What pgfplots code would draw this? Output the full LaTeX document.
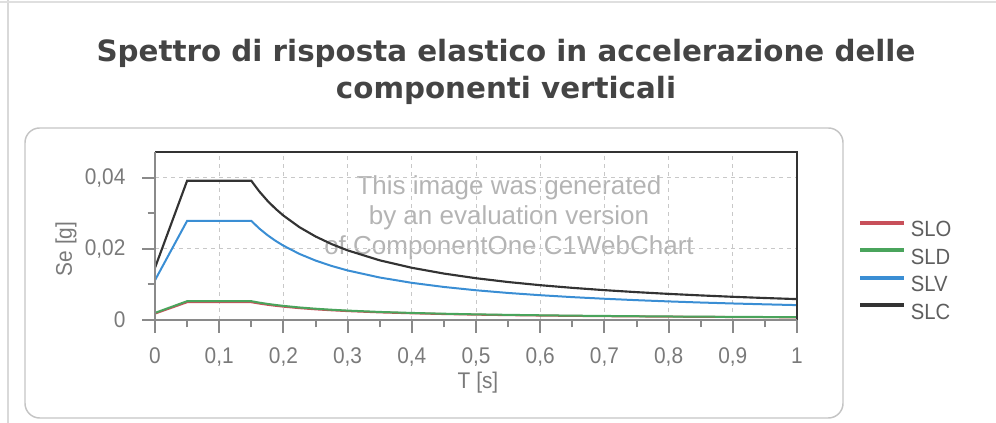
\documentclass[border=0pt]{standalone}
\usepackage{pgfplots}
\pgfplotsset{compat=1.18}
\usepackage{fontspec}
\setmainfont{Liberation Sans}
\newfontfamily\titlefont{DejaVu Sans}
\newfontfamily\lfont{Liberation Sans}[FakeStretch=0.92]
\newfontfamily\wfont{Liberation Sans}
\definecolor{cSLO}{HTML}{C8505A}
\definecolor{cSLD}{HTML}{4AA45C}
\definecolor{cSLV}{HTML}{3A8ED4}
\definecolor{cSLC}{HTML}{333333}
\definecolor{titlegray}{HTML}{444444}
\definecolor{labelgray}{HTML}{7A7A7A}
\definecolor{legendgray}{HTML}{5E5E5E}
\definecolor{tickgray}{HTML}{8A8A8A}
\definecolor{gridgray}{HTML}{C8C8C8}
\definecolor{boxgray}{HTML}{C4C4C4}
\definecolor{wmgray}{HTML}{B4B4B4}
\begin{document}
\begin{tikzpicture}[x=0.75pt,y=0.75pt]
% faint scan borders
\draw[gray!30, line width=0.9pt] (8,0) -- (8,423);
\draw[gray!25, line width=0.9pt] (0,421) -- (996,421);
% rounded panel
\draw[boxgray, line width=1.1pt, rounded corners=11pt] (25,5) rectangle (843,295);
% title
\node[anchor=base, text=titlegray, font=\titlefont\bfseries\fontsize{22}{26}\selectfont, inner sep=0pt] at (506,361) {Spettro di risposta elastico in accelerazione delle};
\node[anchor=base, text=titlegray, font=\titlefont\bfseries\fontsize{22}{26}\selectfont, inner sep=0pt] at (506,324) {componenti verticali};
% watermark
\node[anchor=base, text=wmgray, font=\wfont\fontsize{19.5}{21}\selectfont, inner sep=0pt] at (509,228) {This image was generated};
\node[anchor=base, text=wmgray, font=\wfont\fontsize{19.5}{21}\selectfont, inner sep=0pt] at (509,198) {by an evaluation version};
\node[anchor=base, text=wmgray, font=\wfont\fontsize{19.5}{21}\selectfont, inner sep=0pt] at (509,168) {of ComponentOne C1WebChart};
% axis labels
\node[anchor=base, text=labelgray, font=\lfont\fontsize{17}{19}\selectfont, inner sep=0pt] at (478,34) {T [s]};
\node[rotate=90, text=labelgray, font=\lfont\fontsize{17}{19}\selectfont, inner sep=0pt] at (66,174) {Se [g]};
\begin{axis}[
  name=ax,
  scale only axis, width=481.5pt, height=126pt,
  at={(116.25pt,77.25pt)}, anchor=south west,
  xmin=0, xmax=1, ymin=0, ymax=0.0473,
  xtick={0,0.1,0.2,0.3,0.4,0.5,0.6,0.7,0.8,0.9,1},
  minor xtick={0.05,0.15,0.25,0.35,0.45,0.55,0.65,0.75,0.85,0.95},
  ytick={0,0.02,0.04}, minor ytick={0.01,0.03},
  scaled y ticks=false, scaled x ticks=false,
  tick pos=left, tick align=outside,
  major tick length=9.5pt, minor tick length=5.5pt,
  every tick/.append style={tickgray, line width=1.5pt},
  grid=major,
  major grid style={gridgray, line width=0.75pt, dash pattern=on 3pt off 3pt},
  axis line style={draw=none},
  ticklabel style={font=\lfont\fontsize{17}{19}\selectfont, text=labelgray},
  xticklabel style={anchor=north, inner sep=0pt, yshift=-11pt},
  yticklabel style={anchor=east, inner sep=0pt, xshift=-12.5pt},
  /pgf/number format/use comma,
  /pgf/number format/fixed,
  /pgf/number format/precision=2,
  /pgf/number format/assume math mode=true,
  legend style={draw=none, fill=none, at={(1.095,0.592)}, anchor=north west,
    inner sep=0pt, row sep=8.6pt,
    font=\lfont\fontsize{16.5}{16.5}\selectfont, text=legendgray,
    nodes={inner sep=0pt, text height=12pt, text depth=0pt}},
  legend cell align=left,
  legend image code/.code={\draw[line width=3pt] (0pt,4.5pt) -- (33pt,4.5pt); \path[draw=none, fill=none] (38pt,4pt) -- (38pt,4.1pt);},
]
\addplot[cSLO, line width=1.5pt] coordinates {
(0,0.0018) (0.05,0.0050) (0.15,0.0050) (0.1625,0.00462) (0.175,0.00429) (0.1875,0.0040) (0.2,0.00375) (0.225,0.00333) (0.25,0.0030) (0.275,0.00273) (0.3,0.0025) (0.35,0.00214) (0.4,0.00188) (0.45,0.00167) (0.5,0.0015) (0.55,0.00136) (0.6,0.00125) (0.65,0.00115) (0.7,0.00107) (0.75,0.0010) (0.8,0.00094) (0.85,0.00088) (0.9,0.00083) (0.95,0.00079) (1,0.00075)};
\addlegendentry{SLO}
\addplot[cSLD, line width=1.5pt] coordinates {
(0,0.0020) (0.05,0.0053) (0.15,0.0053) (0.1625,0.00489) (0.175,0.00454) (0.1875,0.00424) (0.2,0.00398) (0.225,0.00353) (0.25,0.00318) (0.275,0.00289) (0.3,0.00265) (0.35,0.00227) (0.4,0.00199) (0.45,0.00177) (0.5,0.00159) (0.55,0.00145) (0.6,0.00133) (0.65,0.00122) (0.7,0.00114) (0.75,0.00106) (0.8,0.00099) (0.85,0.00094) (0.9,0.00088) (0.95,0.00084) (1,0.0008)};
\addlegendentry{SLD}
\addplot[cSLV, line width=1.5pt] coordinates {
(0,0.0112) (0.05,0.0279) (0.15,0.0279) (0.1625,0.02575) (0.175,0.02391) (0.1875,0.02232) (0.2,0.02093) (0.225,0.0186) (0.25,0.01674) (0.275,0.01522) (0.3,0.01395) (0.35,0.01196) (0.4,0.01046) (0.45,0.0093) (0.5,0.00837) (0.55,0.00761) (0.6,0.00698) (0.65,0.00644) (0.7,0.00598) (0.75,0.00558) (0.8,0.00523) (0.85,0.00492) (0.9,0.00465) (0.95,0.00441) (1,0.00419)};
\addlegendentry{SLV}
\addplot[cSLC, line width=1.6pt] coordinates {
(0,0.0147) (0.05,0.0392) (0.15,0.0392) (0.1625,0.03618) (0.175,0.0336) (0.1875,0.03136) (0.2,0.0294) (0.225,0.02613) (0.25,0.02352) (0.275,0.02138) (0.3,0.0196) (0.35,0.0168) (0.4,0.0147) (0.45,0.01307) (0.5,0.01176) (0.55,0.01069) (0.6,0.0098) (0.65,0.00905) (0.7,0.0084) (0.75,0.00784) (0.8,0.00735) (0.85,0.00692) (0.9,0.00653) (0.95,0.00619) (1,0.00588)};
\addlegendentry{SLC}
\end{axis}
% frame
\draw[cSLC, line width=1.6pt] (ax.north west) -- (ax.north east) -- (ax.south east);
\draw[tickgray, line width=2.2pt] (ax.north west) -- (ax.south west) -- (ax.south east);
\pgfresetboundingbox
\path[use as bounding box] (0,0) rectangle (996,423);
\end{tikzpicture}
\end{document}
